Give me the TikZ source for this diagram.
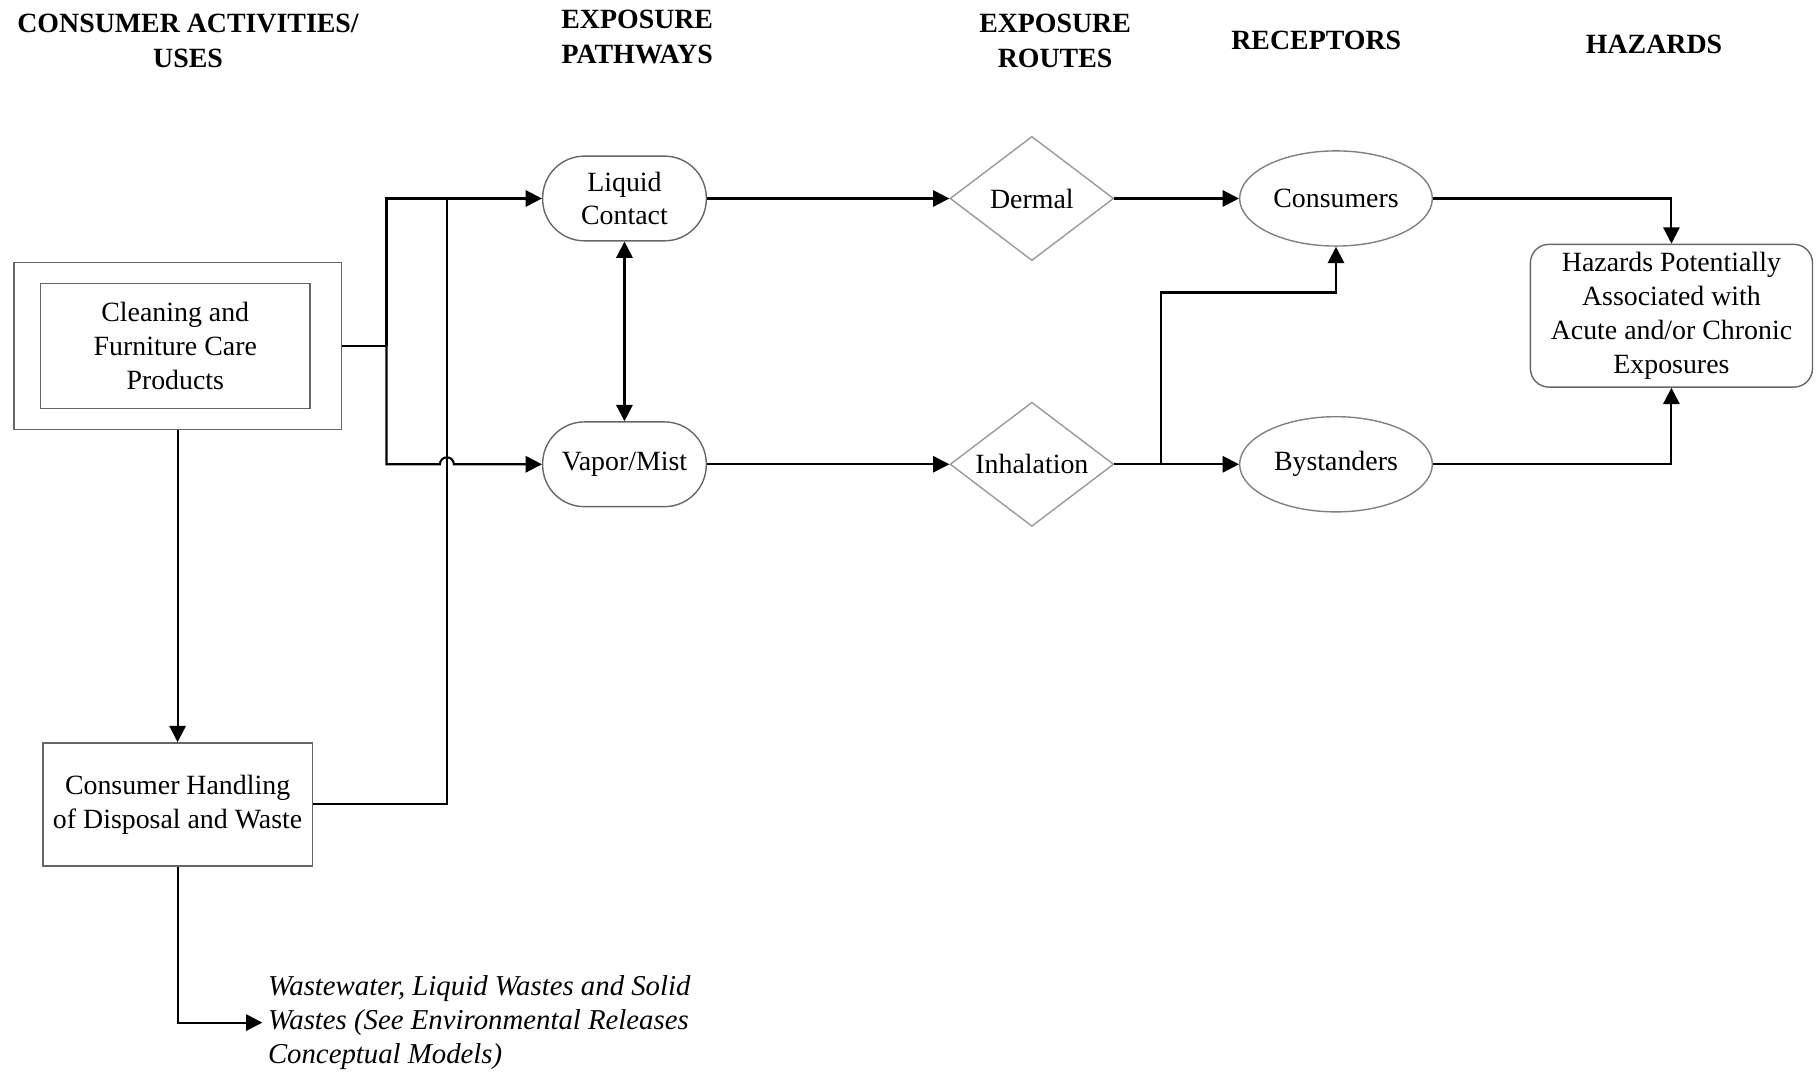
\documentclass[tikz,border=0pt]{standalone}
\usepackage{fontspec}
\setmainfont{Liberation Serif}
\usetikzlibrary{arrows.meta, shapes.geometric, positioning}

\begin{document}
\begin{tikzpicture}[->, >={Triangle[length=7pt, width=7pt]}, x=0.5pt, y=-0.5pt, line width=0.9pt,
    font=\fontsize{12}{14.6}\selectfont]
  \tikzstyle{head}=[font=\fontsize{12}{15}\selectfont\bfseries, align=center]
  \tikzstyle{box}=[draw=black!60, semithick, rectangle, align=center, minimum width=116pt, minimum height=54pt]
  \tikzstyle{pathway}=[draw=black!60, semithick, rectangle, rounded corners=18pt, align=center,
    minimum width=70.5pt, minimum height=36.5pt]
  \tikzstyle{route}=[draw=black!40, semithick, diamond, aspect=1.32, inner sep=0pt,
    minimum width=70.5pt, minimum height=53.5pt]
  \tikzstyle{receptor}=[draw=black!50, semithick, ellipse, inner sep=0.5pt, minimum width=83pt, minimum height=41pt]
  \tikzstyle{hazard}=[draw=black!60, semithick, rectangle, rounded corners=8pt, align=center,
    minimum width=121.5pt, minimum height=61.5pt]

  \useasboundingbox (0,0) rectangle (1568,925);

  % Headings
  \node[head] (hUses) at (162,35) {CONSUMER ACTIVITIES/\\USES};
  \node[head] (hPath) at (549,32) {EXPOSURE\\PATHWAYS};
  \node[head] (hRoute) at (909,35) {EXPOSURE\\ROUTES};
  \node[head] (hRec) at (1134,35) {RECEPTORS};
  \node[head] (hHaz) at (1425,38) {HAZARDS};

  % Uses
  \node[box, minimum width=141pt, minimum height=72pt] (useout) at (153,298) {};
  \node[box] (use) at (151,298) {Cleaning and\\Furniture Care\\Products};
  \node[box, minimum height=53pt] (handling) at (153,693) {Consumer Handling\\of Disposal and Waste};
  \node[anchor=west, align=left, inner xsep=2pt, font=\fontsize{12.4}{14.8}\selectfont\itshape] (waste) at (226,881)
    {Wastewater, Liquid Wastes and Solid\\Wastes (See Environmental Releases\\Conceptual Models)};

  % Pathways, routes, receptors
  \node[pathway] (liquid) at (538,171) {Liquid\\Contact};
  \node[pathway] (vapor) at (538,400) {Vapor/Mist};
  \node[route] (dermal) at (889,171) {Dermal};
  \node[route] (inhal) at (889,400) {Inhalation};
  \node[receptor] (consumers) at (1151,171) {Consumers};
  \node[receptor] (bystanders) at (1151,400) {Bystanders};
  \node[hazard] (hazards) at (1440,272) {Hazards Potentially\\Associated with\\Acute and/or Chronic\\Exposures};

  \coordinate (split) at (333,298);
  \coordinate (join) at (385,171);
  \coordinate (branch) at (1000,400);
  \coordinate (up) at (1000,252);

  % Connectors
  \draw[-] (useout.east) -- (split);
  \draw (split) |- (liquid.west);
  \draw (split) |- (379,400) arc (180:360:6) -- (vapor.west);
  \draw[-] (handling.east) -| (join);
  \draw (useout.south) -- (handling.north);
  \draw (handling.south) |- (waste.west);

  \draw[<->] (liquid) -- (vapor);
  \draw (liquid) -- (dermal);
  \draw (vapor) -- (inhal);
  \draw (dermal) -- (consumers);
  \draw (inhal) -- (bystanders);
  \draw (branch) -- (up) -| (consumers.south);
  \draw (consumers.east) -| (hazards.north);
  \draw (bystanders.east) -| (hazards.south);

\end{tikzpicture}
\end{document}
